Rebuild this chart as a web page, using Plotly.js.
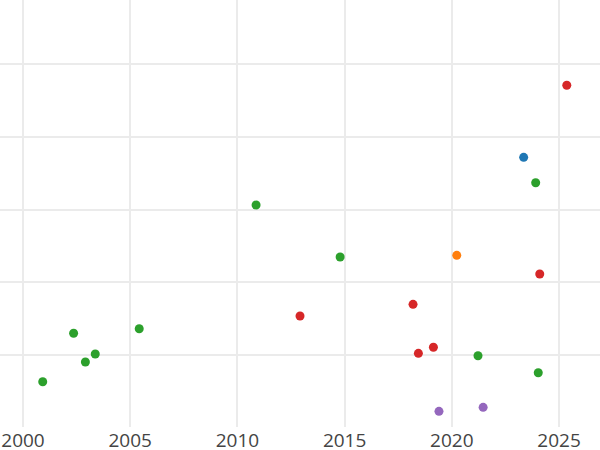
<!DOCTYPE html>
<html>
<head>
<meta charset="utf-8">
<script src="https://cdn.plot.ly/plotly-3.0.1.min.js"></script>
<style>html,body{margin:0;padding:0;background:#fff;}#chart{width:600px;height:450px;}</style>
</head>
<body>
<div id="chart"></div>
<script>
const greenX = [2000.92, 2002.36, 2002.91, 2003.37, 2005.42, 2010.87, 2014.79, 2021.22, 2023.91, 2024.03];
const greenY = [0.628, 1.295, 0.899, 1.010, 1.358, 3.062, 2.346, 0.986, 3.369, 0.752];
const redX = [2025.36, 2012.92, 2018.19, 2018.44, 2019.14, 2024.10];
const redY = [4.711, 1.533, 1.694, 1.019, 1.102, 2.112];
const blueX = [2023.35];
const blueY = [3.719];
const orangeX = [2020.23];
const orangeY = [2.369];
const purpleX = [2019.40, 2021.46];
const purpleY = [0.220, 0.275];
const xTicks = [2000, 2005, 2010, 2015, 2020, 2025];
const yGrid = [1, 2, 3, 4, 5];

function tr(x, y, c) {
  return {x: x, y: y, type: 'scatter', mode: 'markers', marker: {color: c, size: 9}, showlegend: false, hoverinfo: 'x+y'};
}
const data = [
  tr(greenX, greenY, '#2ca02c'),
  tr(redX, redY, '#d62728'),
  tr(blueX, blueY, '#1f77b4'),
  tr(orangeX, orangeY, '#ff7f0e'),
  tr(purpleX, purpleY, '#9467bd')
];
const layout = {
  width: 600, height: 450,
  margin: {l: 0, r: 0, t: 0, b: 23, pad: 0},
  paper_bgcolor: '#ffffff', plot_bgcolor: '#ffffff',
  font: {family: 'Open Sans', size: 19, color: '#444444'},
  xaxis: {range: [1998.927, 2026.91], tickvals: xTicks, ticktext: xTicks.map(String),
          showgrid: true, gridcolor: '#ebebeb', gridwidth: 2, zeroline: false, showline: false, ticks: '',
          tickfont: {family: 'Open Sans', size: 19, color: '#444444'}},
  yaxis: {range: [0.004, 5.886], tickvals: yGrid, showticklabels: false,
          showgrid: true, gridcolor: '#ebebeb', gridwidth: 2, zeroline: false, showline: false, ticks: ''}
};
Plotly.newPlot('chart', data, layout, {displayModeBar: false, staticPlot: true});
</script>
</body>
</html>
